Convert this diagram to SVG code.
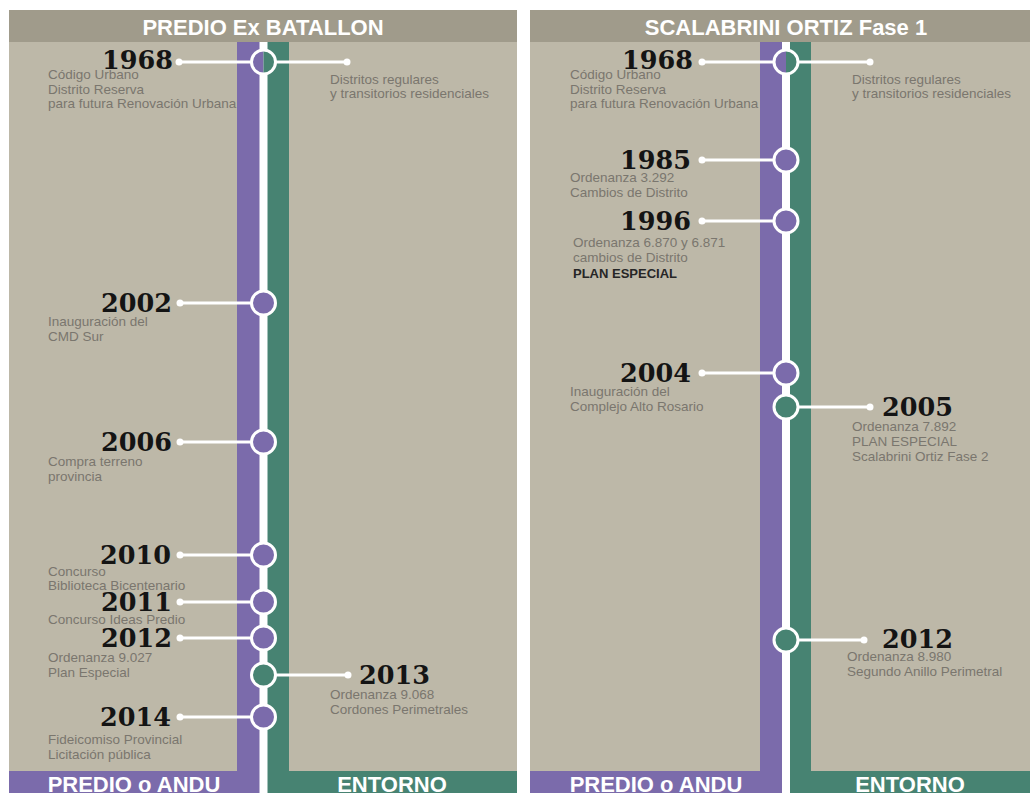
<svg xmlns="http://www.w3.org/2000/svg" width="1030" height="793" viewBox="0 0 1030 793">
<style>
.bg{fill:#bdb8a8}
.hd{fill:#a09b8b}
.pu{fill:#7b6bab}
.gr{fill:#478372}
.wl{fill:#ffffff}
.yr{font-family:"DejaVu Serif",serif;font-weight:bold;font-size:25.5px;fill:#141414}
.ds{font-family:"Liberation Sans",Arial,sans-serif;font-size:13.5px;fill:#7a766e}
.dsb{font-family:"Liberation Sans",Arial,sans-serif;font-size:13px;font-weight:bold;fill:#262626}
.ttl{font-family:"Liberation Sans",Arial,sans-serif;font-weight:bold;font-size:22px;fill:#ffffff;text-anchor:middle}
.ft{font-family:"Liberation Sans",Arial,sans-serif;font-weight:bold;font-size:22px;fill:#ffffff;text-anchor:middle}
.ln{stroke:#ffffff;stroke-width:3}
.dot{fill:#ffffff}
.np{fill:#7b6bab;stroke:#ffffff;stroke-width:3}
.ng{fill:#478372;stroke:#ffffff;stroke-width:3}
.rim{fill:none;stroke:#ffffff;stroke-width:3}
.e{text-anchor:end}
</style>
<rect x="0" y="0" width="1030" height="793" fill="#ffffff"/>
<g id="panel-left">
<rect class="bg" x="9" y="10" width="508" height="783"/>
<rect class="hd" x="9" y="10" width="508" height="32"/>
<text class="ttl" x="263" y="35">PREDIO Ex BATALLON</text>
<rect class="pu" x="237" y="42" width="27" height="751"/>
<rect class="gr" x="263" y="42" width="26" height="751"/>
<rect class="pu" x="9" y="771" width="255" height="22"/>
<rect class="gr" x="263" y="771" width="254" height="22"/>
<rect class="wl" x="259.5" y="42" width="8" height="751"/>
<text class="ft" x="134" y="792">PREDIO o ANDU</text>
<text class="ft" x="392" y="792">ENTORNO</text>
</g>
<g id="panel-right">
<rect class="bg" x="530" y="10" width="500" height="783"/>
<rect class="hd" x="530" y="10" width="500" height="32"/>
<text class="ttl" x="786" y="35">SCALABRINI ORTIZ Fase 1</text>
<rect class="pu" x="760" y="42" width="27" height="751"/>
<rect class="gr" x="786" y="42" width="25" height="751"/>
<rect class="pu" x="530" y="771" width="257" height="22"/>
<rect class="gr" x="786" y="771" width="244" height="22"/>
<rect class="wl" x="782" y="42" width="8" height="751"/>
<text class="ft" x="656" y="792">PREDIO o ANDU</text>
<text class="ft" x="910" y="792">ENTORNO</text>
</g>
<g id="connectors">
<line class="ln" x1="179" y1="62" x2="347" y2="62"/><circle class="dot" cx="179" cy="62" r="3.5"/><circle class="dot" cx="347" cy="62" r="3.5"/>
<line class="ln" x1="180" y1="303" x2="263" y2="303"/><circle class="dot" cx="180" cy="303" r="3.5"/>
<line class="ln" x1="180" y1="442" x2="263" y2="442"/><circle class="dot" cx="180" cy="442" r="3.5"/>
<line class="ln" x1="180" y1="555" x2="263" y2="555"/><circle class="dot" cx="180" cy="555" r="3.5"/>
<line class="ln" x1="180" y1="602" x2="263" y2="602"/><circle class="dot" cx="180" cy="602" r="3.5"/>
<line class="ln" x1="180" y1="638" x2="263" y2="638"/><circle class="dot" cx="180" cy="638" r="3.5"/>
<line class="ln" x1="263" y1="675" x2="348" y2="675"/><circle class="dot" cx="348" cy="675" r="3.5"/>
<line class="ln" x1="180" y1="717" x2="263" y2="717"/><circle class="dot" cx="180" cy="717" r="3.5"/>
<line class="ln" x1="702" y1="62" x2="870" y2="62"/><circle class="dot" cx="702" cy="62" r="3.5"/><circle class="dot" cx="870" cy="62" r="3.5"/>
<line class="ln" x1="702" y1="160" x2="786" y2="160"/><circle class="dot" cx="702" cy="160" r="3.5"/>
<line class="ln" x1="702" y1="221" x2="786" y2="221"/><circle class="dot" cx="702" cy="221" r="3.5"/>
<line class="ln" x1="702" y1="373" x2="786" y2="373"/><circle class="dot" cx="702" cy="373" r="3.5"/>
<line class="ln" x1="786" y1="407" x2="870" y2="407"/><circle class="dot" cx="870" cy="407" r="3.5"/>
<line class="ln" x1="786" y1="640" x2="864" y2="640"/><circle class="dot" cx="864" cy="640" r="3.5"/>
</g>
<g id="L1968">
<path class="pu" d="M263.5,50 A12,12 0 0 0 263.5,74 Z"/>
<path class="gr" d="M263.5,50 A12,12 0 0 1 263.5,74 Z"/>
<circle class="rim" cx="263.5" cy="62" r="12"/>
<text class="yr e" x="173" y="69">1968</text>
<text class="ds" x="48" y="79">Código Urbano</text>
<text class="ds" x="48" y="94">Distrito Reserva</text>
<text class="ds" x="48" y="108">para futura Renovación Urbana</text>
<text class="ds" x="330" y="84">Distritos regulares</text>
<text class="ds" x="330" y="98">y transitorios residenciales</text>
</g>
<g id="L2002"><circle class="np" cx="263.5" cy="303" r="12"/><text class="yr e" x="172" y="312">2002</text>
<text class="ds" x="48" y="326">Inauguración del</text><text class="ds" x="48" y="341">CMD Sur</text></g>
<g id="L2006"><circle class="np" cx="263.5" cy="442" r="12"/><text class="yr e" x="172" y="451">2006</text>
<text class="ds" x="48" y="466">Compra terreno</text><text class="ds" x="48" y="481">provincia</text></g>
<g id="L2010"><circle class="np" cx="263.5" cy="555" r="12"/><text class="yr e" x="171" y="564">2010</text>
<text class="ds" x="48" y="576">Concurso</text><text class="ds" x="48" y="590">Biblioteca Bicentenario</text></g>
<g id="L2011"><circle class="np" cx="263.5" cy="602" r="12"/><text class="yr e" x="172" y="611">2011</text>
<text class="ds" x="48" y="624">Concurso Ideas Predio</text></g>
<g id="L2012"><circle class="np" cx="263.5" cy="638" r="12"/><text class="yr e" x="172" y="647">2012</text>
<text class="ds" x="48" y="662">Ordenanza 9.027</text><text class="ds" x="48" y="677">Plan Especial</text></g>
<g id="L2013"><circle class="ng" cx="263.5" cy="675" r="12"/><text class="yr" x="359" y="684">2013</text>
<text class="ds" x="330" y="699">Ordenanza 9.068</text><text class="ds" x="330" y="714">Cordones Perimetrales</text></g>
<g id="L2014"><circle class="np" cx="263.5" cy="717" r="12"/><text class="yr e" x="171" y="726">2014</text>
<text class="ds" x="48" y="744">Fideicomiso Provincial</text><text class="ds" x="48" y="759">Licitación pública</text></g>
<g id="R1968">
<path class="pu" d="M786,50 A12,12 0 0 0 786,74 Z"/>
<path class="gr" d="M786,50 A12,12 0 0 1 786,74 Z"/>
<circle class="rim" cx="786" cy="62" r="12"/>
<text class="yr e" x="693" y="69">1968</text>
<text class="ds" x="570" y="79">Código Urbano</text>
<text class="ds" x="570" y="94">Distrito Reserva</text>
<text class="ds" x="570" y="108">para futura Renovación Urbana</text>
<text class="ds" x="852" y="84">Distritos regulares</text>
<text class="ds" x="852" y="98">y transitorios residenciales</text>
</g>
<g id="R1985"><circle class="np" cx="786" cy="160" r="12"/><text class="yr e" x="691" y="169">1985</text>
<text class="ds" x="570" y="182">Ordenanza 3.292</text><text class="ds" x="570" y="197">Cambios de Distrito</text></g>
<g id="R1996"><circle class="np" cx="786" cy="221" r="12"/><text class="yr e" x="691" y="230">1996</text>
<text class="ds" x="573" y="247">Ordenanza 6.870 y 6.871</text><text class="ds" x="573" y="262">cambios de Distrito</text><text class="dsb" x="573" y="278">PLAN ESPECIAL</text></g>
<g id="R2004"><circle class="np" cx="786" cy="373" r="12"/><text class="yr e" x="691" y="382">2004</text>
<text class="ds" x="570" y="396">Inauguración del</text><text class="ds" x="570" y="411">Complejo Alto Rosario</text></g>
<g id="R2005"><circle class="ng" cx="786" cy="407" r="12"/><text class="yr" x="882" y="416">2005</text>
<text class="ds" x="852" y="431">Ordenanza 7.892</text><text class="ds" x="852" y="446">PLAN ESPECIAL</text><text class="ds" x="852" y="461">Scalabrini Ortiz Fase 2</text></g>
<g id="R2012"><circle class="ng" cx="786" cy="640" r="12"/><text class="yr" x="882" y="648">2012</text>
<text class="ds" x="847" y="661">Ordenanza 8.980</text><text class="ds" x="847" y="676">Segundo Anillo Perimetral</text></g>
</svg>
